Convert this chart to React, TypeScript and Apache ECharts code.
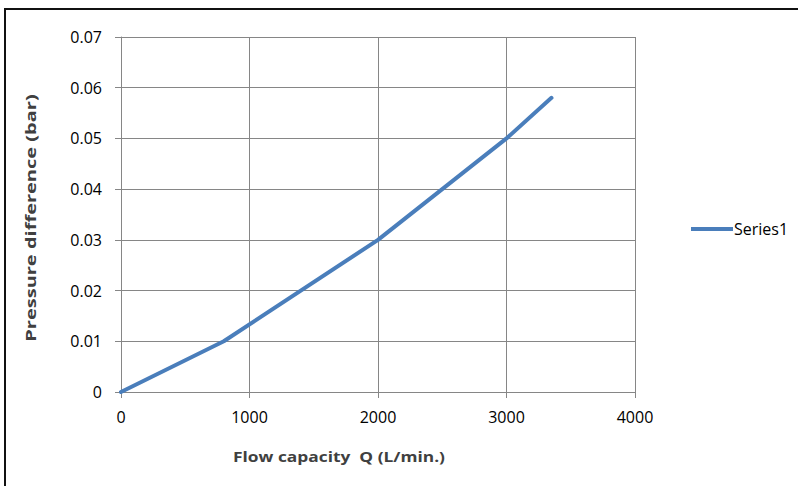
import React, { useEffect, useRef } from "react";
import * as echarts from "echarts";

const flowQ = [0, 800, 2000, 3000, 3350];
const pressure = [0, 0.01, 0.03, 0.05, 0.058];
const seriesName = "Series1";
const xTitle = "Flow capacity  Q (L/min.)";
const yTitle = "Pressure difference (bar)";

export default function App() {
  const ref = useRef<HTMLDivElement>(null);
  useEffect(() => {
    document.body.style.margin = "0";
    const chart = echarts.init(ref.current!, null, { renderer: "svg" });
    const font = "'Open Sans', 'Liberation Sans', sans-serif";
    chart.setOption({
      animation: false,
      backgroundColor: "#ffffff",
      grid: { left: 121, right: 163, top: 37, bottom: 94, containLabel: false },
      xAxis: {
        type: "value",
        min: 0,
        max: 4000,
        interval: 1000,
        axisLine: { show: true, lineStyle: { color: "#868686", width: 1 } },
        axisTick: { show: true, length: 6, lineStyle: { color: "#868686" } },
        splitLine: { show: true, lineStyle: { color: "#868686", width: 1 } },
        axisLabel: {
          color: "#000",
          fontSize: 16,
          fontFamily: font,
          margin: 17,
          formatter: (v: number) => String(v),
        },
      },
      yAxis: {
        type: "value",
        min: 0,
        max: 0.07,
        interval: 0.01,
        axisLine: { show: true, lineStyle: { color: "#868686", width: 1 } },
        axisTick: { show: true, length: 6, lineStyle: { color: "#868686" } },
        splitLine: { show: true, lineStyle: { color: "#868686", width: 1 } },
        axisLabel: {
          color: "#000",
          fontSize: 16,
          fontFamily: font,
          margin: 19,
          formatter: (v: number) => (v === 0 ? "0" : v.toFixed(2)),
        },
      },
      legend: {
        show: true,
        orient: "vertical",
        left: 686,
        top: 216,
        icon: "rect",
        itemWidth: 42,
        itemHeight: 4,
        itemGap: 0,
        textStyle: { color: "#000", fontSize: 16, fontFamily: font, padding: [0, 0, 0, -4] },
        data: [seriesName],
      },
      series: [
        {
          name: seriesName,
          type: "line",
          data: flowQ.map((q, i) => [q, pressure[i]]),
          showSymbol: false,
          symbol: "none",
          lineStyle: { color: "#4a7ebb", width: 4, cap: "round", join: "round" },
          itemStyle: { color: "#4a7ebb" },
        },
      ],
      graphic: [
        { type: "line", shape: { x1: 5, y1: 9, x2: 5, y2: 486 }, style: { stroke: "#111", lineWidth: 2 } },
        { type: "line", shape: { x1: 4, y1: 9, x2: 798, y2: 9 }, style: { stroke: "#111", lineWidth: 2 } },
        {
          type: "text",
          x: 339,
          y: 457,
          scaleX: 1.24,
          style: {
            text: xTitle,
            fill: "#404040",
            font: "bold 14px " + font,
            align: "center",
            verticalAlign: "middle",
          },
        },
        {
          type: "text",
          x: 31,
          y: 218,
          rotation: Math.PI / 2,
          scaleX: 1.43,
          style: {
            text: yTitle,
            fill: "#404040",
            font: "bold 14px " + font,
            align: "center",
            verticalAlign: "middle",
          },
        },
      ],
    });
    return () => chart.dispose();
  }, []);
  return <div ref={ref} style={{ width: 798, height: 486 }} />;
}
